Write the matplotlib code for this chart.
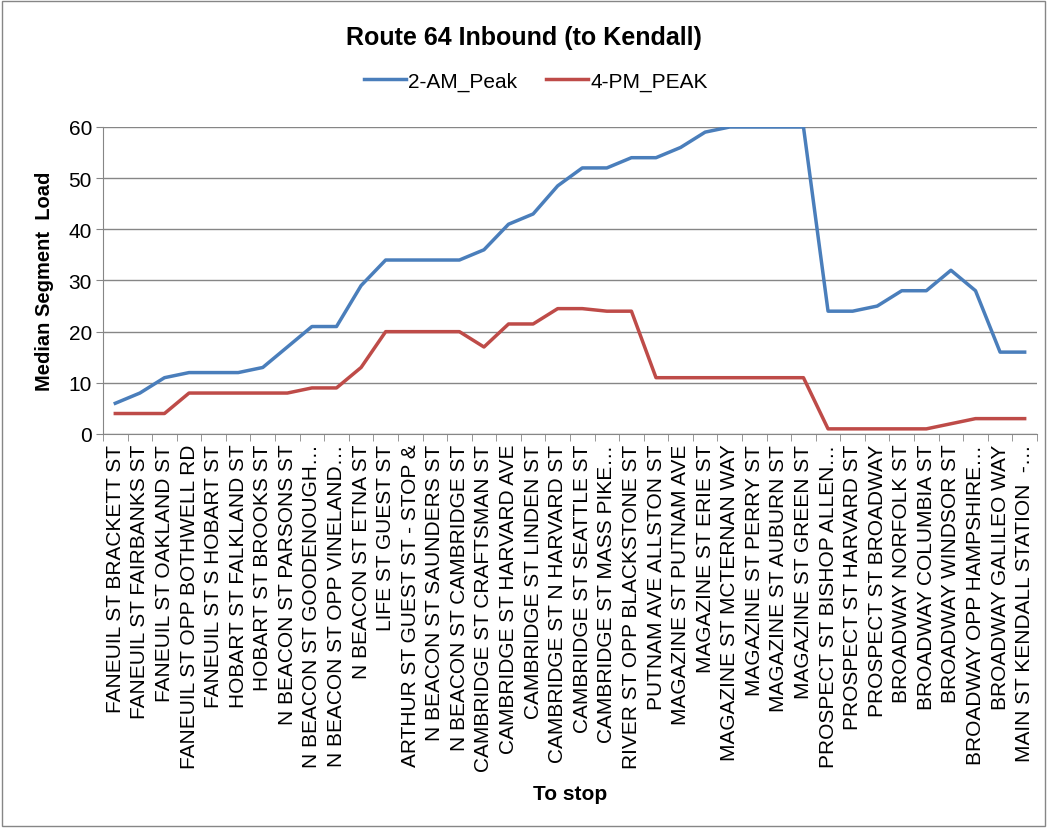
import numpy as np
import matplotlib
matplotlib.use("Agg")
import matplotlib.pyplot as plt
from matplotlib.patches import Rectangle

plt.rcParams['font.family'] = ['Liberation Sans', 'DejaVu Sans']

stops = [
    "FANEUIL ST BRACKETT ST", "FANEUIL ST FAIRBANKS ST", "FANEUIL ST OAKLAND ST",
    "FANEUIL ST OPP BOTHWELL RD", "FANEUIL ST S HOBART ST", "HOBART ST FALKLAND ST",
    "HOBART ST BROOKS ST", "N BEACON ST PARSONS ST", "N BEACON ST GOODENOUGH\u2026",
    "N BEACON ST OPP VINELAND\u2026", "N BEACON ST ETNA ST", "LIFE ST GUEST ST",
    "ARTHUR ST GUEST ST - STOP &", "N BEACON ST SAUNDERS ST", "N BEACON ST CAMBRIDGE ST",
    "CAMBRIDGE ST CRAFTSMAN ST", "CAMBRIDGE ST HARVARD AVE", "CAMBRIDGE ST LINDEN ST",
    "CAMBRIDGE ST N HARVARD ST", "CAMBRIDGE ST SEATTLE ST", "CAMBRIDGE ST MASS PIKE\u2026",
    "RIVER ST OPP BLACKSTONE ST", "PUTNAM AVE ALLSTON ST", "MAGAZINE ST PUTNAM AVE",
    "MAGAZINE ST ERIE ST", "MAGAZINE ST MCTERNAN WAY", "MAGAZINE ST PERRY ST",
    "MAGAZINE ST AUBURN ST", "MAGAZINE ST GREEN ST", "PROSPECT ST BISHOP ALLEN\u2026",
    "PROSPECT ST HARVARD ST", "PROSPECT ST BROADWAY", "BROADWAY NORFOLK ST",
    "BROADWAY COLUMBIA ST", "BROADWAY WINDSOR ST", "BROADWAY OPP HAMPSHIRE\u2026",
    "BROADWAY GALILEO WAY", "MAIN ST KENDALL STATION  -\u2026",
]

am_peak = [6, 8, 11, 12, 12, 12, 13, 17, 21, 21, 29, 34, 34, 34, 34, 36, 41, 43,
           48.5, 52, 52, 54, 54, 56, 59, 60, 60, 60, 60, 24, 24, 25, 28, 28, 32,
           28, 16, 16]
pm_peak = [4, 4, 4, 8, 8, 8, 8, 8, 9, 9, 13, 20, 20, 20, 20, 17, 21.5, 21.5,
           24.5, 24.5, 24, 24, 11, 11, 11, 11, 11, 11, 11, 1, 1, 1, 1, 1, 2, 3,
           3, 3]

fig = plt.figure(figsize=(10.47, 8.29), dpi=100)
ax = fig.add_axes([0.0984, 0.4753, 0.892, 0.3703])

x = np.arange(len(stops))
ax.plot(x, am_peak, color='#4A7EBB', lw=2.5, label='2-AM_Peak', solid_joinstyle='round')
ax.plot(x, pm_peak, color='#BE4B48', lw=2.5, label='4-PM_PEAK', solid_joinstyle='round')

ax.set_xlim(-0.5, len(stops) - 0.5)
ax.set_ylim(0, 60)
ax.set_yticks(range(0, 61, 10))
ax.yaxis.grid(True, color='#868686', lw=1)
ax.set_axisbelow(True)

ax.set_xticks(x)
ax.set_xticklabels(stops, rotation=90, fontsize=15)
ax.set_xticks(np.arange(-0.5, len(stops)), minor=True)
ax.tick_params(axis='x', which='major', length=0, pad=7)
ax.tick_params(axis='x', which='minor', length=5, color='#868686', direction='out')
ax.tick_params(axis='y', length=5, color='#868686', labelsize=15, pad=3)

for s in ['top', 'right']:
    ax.spines[s].set_visible(False)
for s in ['left', 'bottom']:
    ax.spines[s].set_color('#868686')

ax.set_ylabel('Median Segment  Load', fontsize=14.5, fontweight='bold')
ax.yaxis.set_label_coords(-0.052, 0.5)
ax.set_xlabel('To stop', fontsize=15, fontweight='bold')
ax.xaxis.set_label_coords(0.5, -1.14)

fig.text(0.5, 0.954, 'Route 64 Inbound (to Kendall)', ha='center', va='center',
         fontsize=18, fontweight='bold')
fig.legend(loc='center', bbox_to_anchor=(0.512, 0.901), ncol=2, frameon=False,
           fontsize=15, handlelength=2.0, columnspacing=1.4, handletextpad=0.1)

fig.patches.append(Rectangle((0.002, 0.002), 0.996, 0.996, transform=fig.transFigure,
                             fill=False, edgecolor='#868686', lw=1))

fig.savefig('out.png', dpi=100)
